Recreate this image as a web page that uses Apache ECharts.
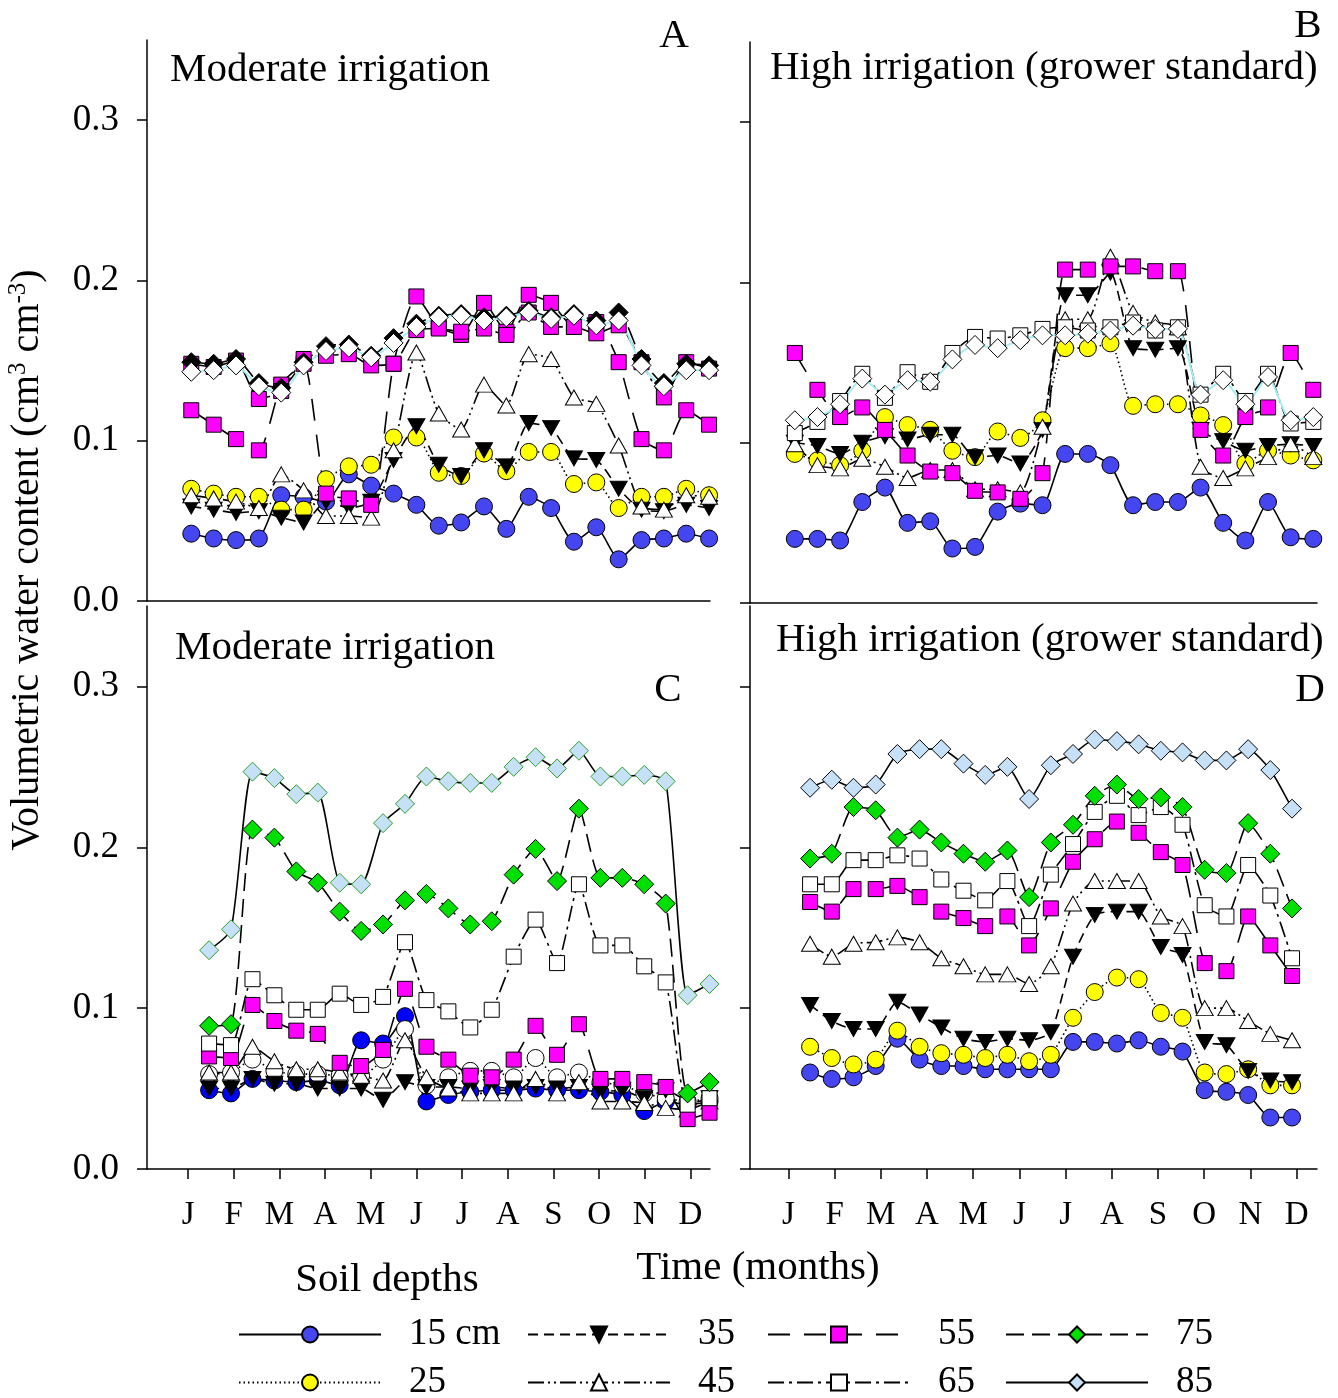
<!DOCTYPE html>
<html>
<head>
<meta charset="utf-8">
<script src="https://cdn.jsdelivr.net/npm/echarts@6/dist/echarts.min.js"></script>
<style>
  html, body { margin: 0; padding: 0; background: #fff; }
  #chart { width: 1338px; height: 1398px; }
</style>
</head>
<body>
<div id="chart"></div>
<script>
// Month tick labels (x axis) and their positions in month units
const monthLabels = ['J', 'F', 'M', 'A', 'M', 'J', 'J', 'A', 'S', 'O', 'N', 'D'];
const monthTicks = [1, 2, 3, 4, 5, 6, 7, 8, 9, 10, 11, 12];
const yTicks = [0, 0.1, 0.2, 0.3];

// Soil depths (legend names)
const depths = ['15 cm', '25', '35', '45', '55', '65', '75', '85'];

// Sampling dates in fractional months for each panel
const timesA = [1.07, 1.56, 2.05, 2.55, 3.04, 3.53, 4.02, 4.52, 5.01, 5.50, 6.00, 6.49,
                6.98, 7.48, 7.97, 8.46, 8.95, 9.45, 9.94, 10.43, 10.93, 11.42, 11.91, 12.41];
const timesB = [1.14, 1.63, 2.12, 2.60, 3.09, 3.58, 4.07, 4.55, 5.04, 5.53, 6.02, 6.50,
                6.99, 7.48, 7.97, 8.46, 8.94, 9.43, 9.92, 10.41, 10.89, 11.38, 11.87, 12.36];
const timesC = [1.46, 1.94, 2.41, 2.89, 3.37, 3.84, 4.32, 4.79, 5.27, 5.75, 6.22, 6.70,
                7.18, 7.65, 8.13, 8.61, 9.08, 9.56, 10.03, 10.51, 10.99, 11.46, 11.94, 12.42];
const timesD = [1.47, 1.94, 2.41, 2.89, 3.36, 3.84, 4.31, 4.79, 5.26, 5.74, 6.21, 6.68,
                7.16, 7.63, 8.11, 8.58, 9.06, 9.53, 10.01, 10.48, 10.95, 11.43, 11.90];

// Panel A - moderate irrigation (cm3 cm-3)
const a15 = [0.042,0.039,0.038,0.039,0.066,0.065,0.062,0.079,0.072,0.067,0.060,0.047,0.049,0.059,0.045,0.065,0.058,0.037,0.046,0.026,0.038,0.039,0.042,0.039];
const a25 = [0.070,0.067,0.065,0.065,0.057,0.057,0.076,0.084,0.085,0.102,0.102,0.080,0.078,0.092,0.081,0.093,0.093,0.073,0.074,0.058,0.065,0.065,0.070,0.066];
const a35 = [0.059,0.057,0.055,0.056,0.052,0.049,0.062,0.058,0.062,0.088,0.109,0.085,0.078,0.094,0.084,0.111,0.108,0.089,0.088,0.070,0.057,0.056,0.060,0.058];
const a45 = [0.066,0.064,0.062,0.058,0.079,0.069,0.053,0.053,0.052,0.094,0.155,0.117,0.107,0.135,0.122,0.154,0.151,0.127,0.123,0.097,0.059,0.057,0.066,0.065];
const a55 = [0.119,0.110,0.101,0.094,0.135,0.148,0.067,0.064,0.060,0.148,0.190,0.171,0.166,0.186,0.168,0.191,0.186,0.171,0.174,0.149,0.101,0.094,0.119,0.110];
const a65 = [0.148,0.146,0.150,0.126,0.131,0.151,0.153,0.154,0.147,0.148,0.169,0.170,0.168,0.170,0.166,0.180,0.171,0.171,0.167,0.172,0.149,0.127,0.149,0.145];
const a75 = [0.149,0.148,0.151,0.136,0.133,0.149,0.159,0.160,0.153,0.164,0.173,0.178,0.179,0.177,0.178,0.181,0.177,0.179,0.175,0.180,0.151,0.136,0.148,0.147];
const a85 = [0.143,0.144,0.147,0.134,0.130,0.147,0.156,0.158,0.152,0.161,0.171,0.177,0.178,0.175,0.177,0.180,0.176,0.178,0.172,0.175,0.147,0.134,0.144,0.144];

// Panel B - high irrigation (grower standard)
const b15 = [0.040,0.040,0.039,0.063,0.072,0.050,0.051,0.034,0.035,0.057,0.062,0.061,0.093,0.093,0.086,0.061,0.063,0.063,0.072,0.050,0.039,0.063,0.041,0.040];
const b25 = [0.093,0.089,0.086,0.095,0.116,0.111,0.108,0.095,0.091,0.107,0.103,0.114,0.159,0.159,0.162,0.123,0.124,0.124,0.117,0.111,0.087,0.095,0.092,0.089];
const b35 = [0.100,0.098,0.093,0.100,0.104,0.102,0.105,0.105,0.091,0.092,0.087,0.108,0.192,0.192,0.206,0.159,0.158,0.159,0.108,0.101,0.095,0.098,0.099,0.098];
const b45 = [0.099,0.086,0.084,0.090,0.085,0.078,0.083,0.083,0.071,0.071,0.069,0.110,0.177,0.177,0.216,0.181,0.175,0.172,0.085,0.078,0.084,0.091,0.099,0.091];
const b55 = [0.156,0.133,0.116,0.122,0.108,0.092,0.082,0.081,0.070,0.069,0.065,0.081,0.208,0.208,0.210,0.210,0.207,0.207,0.108,0.092,0.116,0.122,0.156,0.133];
const b65 = [0.106,0.113,0.126,0.143,0.128,0.144,0.138,0.156,0.166,0.165,0.167,0.171,0.172,0.170,0.172,0.175,0.170,0.172,0.130,0.143,0.126,0.143,0.112,0.113];
const b85 = [0.114,0.116,0.124,0.140,0.130,0.139,0.138,0.152,0.161,0.159,0.164,0.167,0.167,0.168,0.170,0.173,0.171,0.171,0.130,0.139,0.124,0.141,0.114,0.116];

// Panel C - moderate irrigation
const c15 = [0.049,0.047,0.056,0.055,0.054,0.055,0.052,0.080,0.078,0.095,0.042,0.046,0.048,0.049,0.049,0.050,0.049,0.049,0.048,0.046,0.036,0.042,0.040,0.042];
const c25 = [0.059,0.060,0.068,0.061,0.059,0.059,0.058,0.058,0.068,0.087,0.052,0.057,0.061,0.061,0.057,0.069,0.057,0.060,0.054,0.052,0.047,0.044,0.042,0.044];
const c35 = [0.050,0.050,0.056,0.053,0.053,0.050,0.050,0.050,0.043,0.054,0.051,0.051,0.050,0.051,0.050,0.051,0.050,0.051,0.048,0.049,0.044,0.049,0.043,0.044];
const c45 = [0.060,0.060,0.076,0.067,0.062,0.062,0.060,0.058,0.055,0.080,0.057,0.050,0.047,0.047,0.047,0.056,0.047,0.054,0.042,0.042,0.041,0.038,0.037,0.042];
const c55 = [0.070,0.069,0.102,0.092,0.086,0.084,0.066,0.064,0.074,0.112,0.076,0.068,0.058,0.057,0.068,0.089,0.071,0.090,0.056,0.056,0.054,0.051,0.031,0.035];
const c65 = [0.078,0.077,0.118,0.108,0.099,0.099,0.109,0.102,0.107,0.141,0.105,0.098,0.088,0.099,0.132,0.155,0.128,0.177,0.139,0.139,0.126,0.116,0.040,0.044];
const c75 = [0.089,0.090,0.211,0.206,0.185,0.178,0.160,0.148,0.152,0.167,0.171,0.162,0.152,0.154,0.183,0.199,0.179,0.224,0.181,0.181,0.177,0.165,0.047,0.054];
const c85 = [0.136,0.149,0.247,0.243,0.233,0.234,0.178,0.177,0.215,0.227,0.244,0.241,0.240,0.240,0.250,0.256,0.249,0.260,0.244,0.244,0.245,0.241,0.108,0.115];

// Panel D - high irrigation (grower standard)
const d15 = [0.060,0.056,0.057,0.064,0.081,0.068,0.064,0.064,0.062,0.062,0.062,0.062,0.079,0.079,0.078,0.080,0.076,0.073,0.049,0.048,0.046,0.032,0.032];
const d25 = [0.076,0.069,0.065,0.068,0.086,0.076,0.072,0.071,0.069,0.071,0.067,0.071,0.094,0.110,0.119,0.118,0.097,0.094,0.060,0.059,0.062,0.052,0.052];
const d35 = [0.102,0.092,0.087,0.087,0.104,0.096,0.088,0.081,0.079,0.081,0.080,0.085,0.132,0.158,0.160,0.160,0.138,0.133,0.079,0.077,0.061,0.055,0.054];
const d45 = [0.140,0.132,0.140,0.141,0.144,0.141,0.131,0.126,0.121,0.121,0.115,0.126,0.165,0.179,0.179,0.179,0.157,0.151,0.100,0.100,0.092,0.084,0.080];
const d55 = [0.166,0.160,0.174,0.174,0.176,0.169,0.160,0.156,0.151,0.157,0.139,0.162,0.191,0.205,0.216,0.209,0.197,0.189,0.128,0.123,0.157,0.139,0.120];
const d65 = [0.177,0.177,0.192,0.192,0.195,0.193,0.180,0.173,0.167,0.179,0.151,0.183,0.202,0.222,0.232,0.220,0.225,0.214,0.164,0.157,0.189,0.170,0.131];
const d75 = [0.193,0.196,0.225,0.223,0.206,0.211,0.203,0.196,0.191,0.198,0.169,0.203,0.214,0.232,0.239,0.230,0.231,0.225,0.186,0.184,0.215,0.196,0.162];
const d85 = [0.237,0.242,0.237,0.239,0.258,0.261,0.261,0.252,0.245,0.250,0.230,0.251,0.258,0.267,0.266,0.264,0.260,0.259,0.254,0.254,0.261,0.248,0.224];

const SERIF = "'Liberation Serif', 'DejaVu Serif', serif";

// Marker and line look for each depth
const depthStyle = {
  '15 cm': { symbol: 'circle',   size: 17,       fill: '#4646f0', dash: 'solid' },
  '25':    { symbol: 'circle',   size: 17,       fill: '#ffff00', dash: [1.5, 3] },
  '35':    { symbol: 'triangle', size: [17, 15], fill: '#000000', dash: [10, 6], rotate: 180 },
  '45':    { symbol: 'triangle', size: [17, 15], fill: '#ffffff', dash: [16, 4, 2, 4, 2, 4] },
  '55':    { symbol: 'rect',     size: 15,       fill: '#ff00ff', dash: [22, 14] },
  '65':    { symbol: 'rect',     size: 15,       fill: '#ffffff', dash: [16, 5, 3, 5] },
  '75':    { symbol: 'diamond',  size: 19,       fill: '#00e000', dash: [18, 8] },
  '85':    { symbol: 'diamond',  size: 19,       fill: '#c6e0f8', dash: 'solid' }
};

function makeSeries(name, times, values, axis, over) {
  const s = Object.assign({}, depthStyle[name], over || {});
  return {
    type: 'line',
    name: name,
    xAxisIndex: axis,
    yAxisIndex: axis,
    data: times.map((t, i) => [t, values[i]]),
    symbol: s.symbol,
    symbolSize: s.size,
    symbolRotate: s.rotate || 0,
    showAllSymbol: true,
    smooth: 0.2,
    clip: false,
    lineStyle: { color: s.line || '#000', width: s.lineWidth || 1.6, type: s.dash },
    itemStyle: { color: s.fill, borderColor: s.border || '#000', borderWidth: 1 },
    emphasis: { disabled: true },
    animation: false
  };
}

// Panel D first so the legend takes its marker styles from it
const series = [
  makeSeries('15 cm', timesD, d15, 3),
  makeSeries('25', timesD, d25, 3),
  makeSeries('35', timesD, d35, 3),
  makeSeries('45', timesD, d45, 3),
  makeSeries('55', timesD, d55, 3),
  makeSeries('65', timesD, d65, 3),
  makeSeries('75', timesD, d75, 3),
  makeSeries('85', timesD, d85, 3),

  makeSeries('15 cm', timesA, a15, 0),
  makeSeries('25', timesA, a25, 0),
  makeSeries('35', timesA, a35, 0),
  makeSeries('45', timesA, a45, 0),
  makeSeries('55', timesA, a55, 0),
  makeSeries('65', timesA, a65, 0, { fill: '#ff00ff' }),
  makeSeries('75', timesA, a75, 0, { fill: '#000000' }),
  makeSeries('85', timesA, a85, 0, { fill: '#ffffff', line: '#a6eef2', lineWidth: 2 }),

  makeSeries('15 cm', timesB, b15, 1),
  makeSeries('25', timesB, b25, 1),
  makeSeries('35', timesB, b35, 1),
  makeSeries('45', timesB, b45, 1),
  makeSeries('55', timesB, b55, 1),
  makeSeries('65', timesB, b65, 1),
  makeSeries('85', timesB, b85, 1, { fill: '#ffffff', line: '#a6eef2', lineWidth: 2 }),

  makeSeries('15 cm', timesC, c15, 2, { fill: '#0000ff' }),
  makeSeries('25', timesC, c25, 2, { fill: '#ffffff' }),
  makeSeries('35', timesC, c35, 2),
  makeSeries('45', timesC, c45, 2),
  makeSeries('55', timesC, c55, 2),
  makeSeries('65', timesC, c65, 2),
  makeSeries('75', timesC, c75, 2),
  makeSeries('85', timesC, c85, 2, { border: '#2ca02c' })
];

const grids = [
  { left: 147, top: 40,  width: 563, height: 561 },
  { left: 750, top: 42,  width: 567, height: 561 },
  { left: 147, top: 606, width: 563, height: 563 },
  { left: 750, top: 606, width: 567, height: 563 }
];

const axisLineStyle = { color: '#000', width: 1.5 };

function xAxis(grid, min, max, withTicks) {
  return {
    type: 'value', gridIndex: grid, min: min, max: max,
    axisLine: { show: true, onZero: false, lineStyle: axisLineStyle },
    axisTick: { show: withTicks, inside: false, length: 10, lineStyle: axisLineStyle, customValues: monthTicks },
    axisLabel: {
      show: withTicks, customValues: monthTicks, margin: 30,
      fontFamily: SERIF, fontSize: 33, color: '#000',
      formatter: v => monthLabels[Math.round(v) - 1] || ''
    },
    splitLine: { show: false }
  };
}

function yAxis(grid, withLabels) {
  return {
    type: 'value', gridIndex: grid, min: 0, max: 0.35,
    axisLine: { show: true, lineStyle: axisLineStyle },
    axisTick: { show: true, inside: false, length: 10, lineStyle: axisLineStyle, customValues: yTicks },
    axisLabel: {
      show: withLabels, customValues: yTicks, margin: 28,
      fontFamily: SERIF, fontSize: 37, color: '#000',
      formatter: v => v.toFixed(1)
    },
    splitLine: { show: false }
  };
}

function text(str, x, y, size, align) {
  return {
    type: 'text', x: x, y: y, silent: true,
    style: { text: str, fontFamily: SERIF, fontSize: size, fill: '#000',
             align: align || 'left', verticalAlign: 'middle' }
  };
}

const legendBase = {
  orient: 'vertical', itemWidth: 142, itemHeight: 20, itemGap: 11,
  height: 100,
  selectedMode: false,
  textStyle: { fontFamily: SERIF, fontSize: 37, color: '#000', padding: [0, 0, 0, 23], lineHeight: 34 }
};

const option = {
  backgroundColor: '#fff',
  animation: false,
  grid: grids,
  xAxis: [
    xAxis(0, 0.10, 12.43, false),
    xAxis(1, 0.17, 12.44, false),
    xAxis(2, 0.10, 12.43, true),
    xAxis(3, 0.17, 12.44, true)
  ],
  yAxis: [yAxis(0, true), yAxis(1, false), yAxis(2, true), yAxis(3, false)],
  legend: [
    Object.assign({ left: 233, top: 1311, data: ['15 cm', '25'] }, legendBase),
    Object.assign({ left: 522, top: 1311, data: ['35', '45'] }, legendBase),
    Object.assign({ left: 762, top: 1311, data: ['55', '65'] }, legendBase),
    Object.assign({ left: 1000, top: 1311, data: ['75', '85'] }, legendBase)
  ],
  graphic: [
    text('Moderate irrigation', 170, 70, 41),
    text('A', 674, 36, 41, 'center'),
    text('High irrigation (grower standard)', 770, 68, 41),
    text('B', 1308, 26, 41, 'center'),
    text('Moderate irrigation', 175, 648, 41),
    text('C', 668, 690, 41, 'center'),
    text('High irrigation (grower standard)', 776, 640, 41),
    text('D', 1310, 690, 41, 'center'),
    text('Time (months)', 758, 1268, 41, 'center'),
    text('Soil depths', 387, 1280, 41, 'center'),
    {
      type: 'text', x: 27, y: 560, rotation: Math.PI / 2, silent: true,
      style: {
        text: 'Volumetric water content (cm{s|3} cm{s|-3})',
        fontFamily: SERIF, fontSize: 40, fill: '#000',
        align: 'center', verticalAlign: 'middle',
        rich: { s: { fontFamily: SERIF, fontSize: 25, verticalAlign: 'top', padding: [0, 0, 17, 0] } }
      }
    }
  ],
  series: series
};

const chart = echarts.init(document.getElementById('chart'), null, { renderer: 'canvas' });
chart.setOption(option);
</script>
</body>
</html>
